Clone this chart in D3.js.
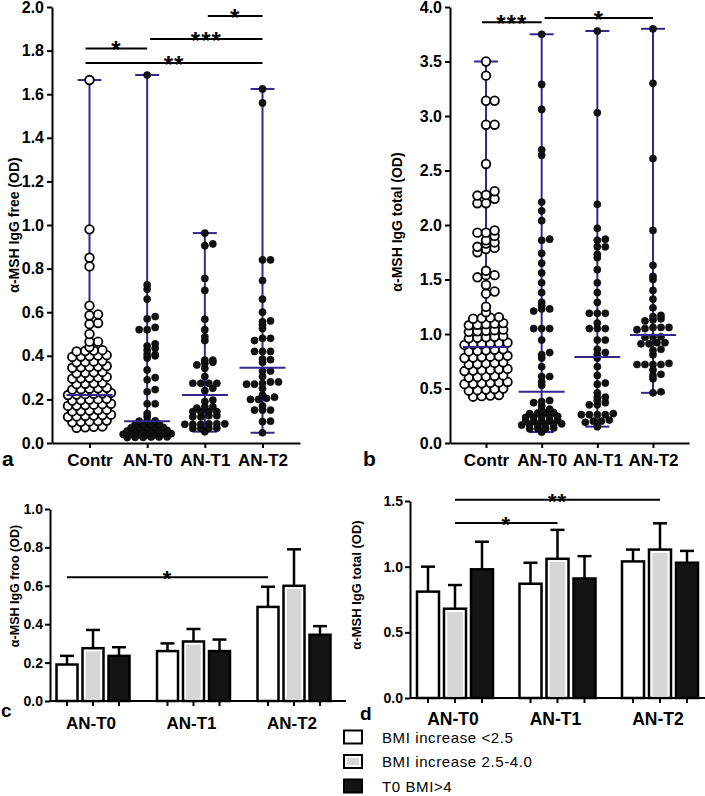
<!DOCTYPE html>
<html><head><meta charset="utf-8">
<script src="https://cdn.jsdelivr.net/npm/d3@7"></script>
<style>
body{margin:0;background:#fff}
svg{display:block}
text{font-family:"Liberation Sans",Arial,Helvetica,sans-serif}
</style>
</head><body>
<svg id="chart" width="705" height="796"></svg>
<script>
// ---------------- DATA ----------------
const scatterGroups = ["Contr", "AN-T0", "AN-T1", "AN-T2"];

// panel a : α-MSH IgG free (OD)
const freeContr = [1.665, 0.98, 0.85, 0.81, 0.63, 0.59, 0.585, 0.55, 0.545, 0.50, 0.465, 0.465, 0.44,
  0.420, 0.422, 0.424, 0.426,
  0.395, 0.397, 0.399, 0.401, 0.403,
  0.370, 0.372, 0.374, 0.376,
  0.345, 0.347, 0.349, 0.351, 0.353,
  0.320, 0.322, 0.324, 0.326,
  0.295, 0.297, 0.299, 0.301, 0.303,
  0.270, 0.272, 0.274, 0.276,
  0.245, 0.247, 0.249, 0.251, 0.253,
  0.220, 0.222, 0.224, 0.226, 0.228, 0.230,
  0.195, 0.197, 0.199, 0.201, 0.203,
  0.170, 0.172, 0.174, 0.176, 0.178, 0.180,
  0.145, 0.147, 0.149, 0.151, 0.153,
  0.120, 0.122, 0.124, 0.126, 0.128, 0.130,
  0.095, 0.097, 0.099, 0.101, 0.103,
  0.070, 0.072, 0.074, 0.076];
const freeT0 = [1.688, 0.725, 0.705, 0.66, 0.58, 0.57, 0.53, 0.52, 0.52, 0.455, 0.445, 0.435, 0.425, 0.405,
  0.405, 0.40, 0.39, 0.335, 0.30, 0.29, 0.245, 0.235, 0.18, 0.18, 0.135, 0.12,
  0.100, 0.101, 0.102,
  0.085, 0.086, 0.086, 0.087,
  0.070, 0.071, 0.071, 0.072, 0.072,
  0.055, 0.056, 0.056, 0.057, 0.057, 0.058,
  0.040, 0.041, 0.041, 0.042, 0.042, 0.043, 0.043,
  0.025, 0.026, 0.026, 0.027, 0.027, 0.028];
const freeT1 = [0.963, 0.913, 0.905, 0.755, 0.70, 0.568, 0.52, 0.487, 0.47, 0.38, 0.38, 0.37, 0.365, 0.358,
  0.343, 0.305, 0.274, 0.274, 0.274, 0.274, 0.251, 0.24, 0.197, 0.19, 0.166, 0.166, 0.16, 0.144, 0.144,
  0.144, 0.144, 0.125, 0.125, 0.12, 0.12, 0.088, 0.088, 0.088, 0.086, 0.086, 0.086, 0.068, 0.068, 0.067,
  0.067, 0.052];
const freeT2 = [1.624, 1.56, 0.84, 0.84, 0.745, 0.66, 0.60, 0.556, 0.56, 0.541, 0.525, 0.48, 0.48, 0.47,
  0.42, 0.42, 0.42, 0.382, 0.385, 0.37, 0.33, 0.33, 0.305, 0.28, 0.274, 0.28, 0.27, 0.27, 0.25, 0.21,
  0.20, 0.205, 0.20, 0.22, 0.151, 0.151, 0.151, 0.17, 0.10, 0.098, 0.047];
const freeMedians = [0.22, 0.10, 0.22, 0.345];
const freeTicks = [0, 0.2, 0.4, 0.6, 0.8, 1.0, 1.2, 1.4, 1.6, 1.8, 2.0];
const freeSig = [
  {from: "Contr", to: "AN-T0", level: 1.81, label: "*"},
  {from: "Contr", to: "AN-T2", level: 1.743, label: "**"},
  {from: "AN-T0", to: "AN-T2", level: 1.853, label: "***"},
  {from: "AN-T1", to: "AN-T2", level: 1.959, label: "*"}
];

// panel b : α-MSH IgG total (OD)
const totalContr = [3.50, 3.37, 3.14, 3.14, 2.92, 2.92, 2.56, 2.31, 2.275, 2.27, 2.24, 2.20, 2.20, 1.95,
  1.93, 1.93, 1.90, 1.86, 1.84, 1.83, 1.80, 1.79, 1.78, 1.75, 1.58, 1.54, 1.54, 1.52, 1.45, 1.39, 1.37,
  1.25, 1.20,
  1.140, 1.145, 1.150, 1.155,
  1.080, 1.085, 1.090, 1.095, 1.100,
  1.020, 1.025, 1.030, 1.035, 1.040,
  0.960, 0.965, 0.970, 0.975, 0.980,
  0.900, 0.904, 0.908, 0.912, 0.916, 0.920,
  0.840, 0.845, 0.850, 0.855, 0.860,
  0.780, 0.784, 0.788, 0.792, 0.796, 0.800,
  0.720, 0.725, 0.730, 0.735, 0.740,
  0.660, 0.664, 0.668, 0.672, 0.676, 0.680,
  0.600, 0.605, 0.610, 0.615, 0.620,
  0.540, 0.544, 0.548, 0.552, 0.556, 0.560,
  0.480, 0.485, 0.490, 0.495, 0.500,
  0.425, 0.430, 0.435, 0.440];
const totalT0 = [3.75, 3.29, 3.06, 2.69, 2.64, 2.21, 2.13, 2.04, 1.87, 1.86, 1.74, 1.65, 1.56, 1.47, 1.38,
  1.29, 1.26, 1.23, 1.23, 1.21, 1.05, 1.05, 1.05, 0.945, 0.83, 0.81, 0.78, 0.70, 0.61, 0.61, 0.56, 0.53,
  0.39, 0.38, 0.37, 0.34,
  0.305, 0.31,
  0.270, 0.275, 0.280, 0.280,
  0.235, 0.238, 0.240, 0.242, 0.245,
  0.200, 0.203, 0.205, 0.207, 0.210,
  0.165, 0.168, 0.170, 0.172, 0.174, 0.176,
  0.130, 0.133, 0.135, 0.138,
  0.10];
const totalT1 = [3.78, 3.03, 2.19, 1.97, 1.87, 1.86, 1.80, 1.80, 1.73, 1.70, 1.59, 1.47, 1.38, 1.29, 1.19,
  1.19, 1.19, 1.10, 1.05, 1.05, 1.05, 0.945, 0.945, 0.86, 0.83, 0.81, 0.78, 0.70, 0.62, 0.55, 0.54, 0.46,
  0.42, 0.42, 0.39, 0.37, 0.35, 0.35, 0.27, 0.26, 0.26, 0.26, 0.26, 0.21, 0.20, 0.20, 0.19, 0.15];
const totalT2 = [3.80, 3.30, 2.61, 1.95, 1.63, 1.53, 1.50, 1.40, 1.32, 1.24, 1.17, 1.16, 1.14, 1.13, 1.12,
  1.06, 1.06, 1.06, 1.05, 1.04, 0.975, 0.97, 0.97, 0.92, 0.92, 0.91, 0.91, 0.86, 0.85, 0.81, 0.73, 0.72,
  0.72, 0.72, 0.72, 0.67, 0.63, 0.62, 0.59, 0.47, 0.46];
const totalMedians = [0.88, 0.47, 0.79, 0.99];
const totalTicks = [0, 0.5, 1.0, 1.5, 2.0, 2.5, 3.0, 3.5, 4.0];
const totalSig = [
  {from: "Contr", to: "AN-T0", level: 3.86, label: "***"},
  {from: "AN-T0", to: "AN-T2", level: 3.90, label: "*"}
];

// panels c & d : means with SEM by BMI group
const barGroups = ["AN-T0", "AN-T1", "AN-T2"];
const bmiSeries = ["BMI increase <2.5", "BMI increase 2.5-4.0", "T0 BMI>4"];
const freeBarMean = [[0.19, 0.275, 0.235], [0.26, 0.31, 0.26], [0.49, 0.60, 0.345]];
const freeBarSem  = [[0.045, 0.095, 0.045], [0.04, 0.065, 0.06], [0.105, 0.19, 0.045]];
const freeBarTicks = [0, 0.2, 0.4, 0.6, 0.8, 1.0];
const freeBarSig = [{from: [0, 0], to: [2, 0], level: 0.645, label: "*"}];

const totalBarMean = [[0.81, 0.68, 0.98], [0.87, 1.06, 0.91], [1.04, 1.13, 1.03]];
const totalBarSem  = [[0.19, 0.18, 0.21], [0.16, 0.22, 0.17], [0.09, 0.20, 0.09]];
const totalBarTicks = [0, 0.5, 1.0, 1.5];
const totalBarSig = [
  {from: [0, 1], to: [2, 1], level: 1.51, label: "**"},
  {from: [0, 1], to: [1, 1], level: 1.333, label: "*"}
];

// ---------------- DRAWING ----------------
const svg = d3.select("#chart");
const PURPLE = "#33298a";
const seriesFill = ["#ffffff", "#d6d6d6", "#141414"];

function styleAxis(g, fontSize) {
  g.selectAll("path, line").attr("stroke", "#000").attr("stroke-width", 2);
  g.selectAll("text").attr("font-size", fontSize).attr("font-weight", "bold").attr("fill", "#000")
    .attr("font-family", '"Liberation Sans", Arial, sans-serif');
}

// Prism-like column scatter: values close in y share a row and spread sideways
function swarm(values, y, binPx, step) {
  const pts = values.map(v => ({v, y: y(v)})).sort((a, b) => b.y - a.y);
  let cur = null;
  const rows = [];
  pts.forEach(p => {
    if (!cur || Math.abs(p.y - cur.y0) > binPx) { cur = {y0: p.y, items: []}; rows.push(cur); }
    cur.items.push(p);
  });
  rows.forEach(r => {
    const n = r.items.length;
    r.items.forEach((p, i) => p.dx = (n === 2 ? i : i - (n - 1) / 2) * step);
  });
  return pts;
}

function scatterPanel(cfg) {
  const x = d3.scalePoint().domain(scatterGroups).range(cfg.xRange).padding(cfg.pad);
  const y = d3.scaleLinear().domain(cfg.yDomain).range([443, 7]);
  const g = svg.append("g");

  const ya = g.append("g").attr("transform", `translate(${cfg.xRange[0]},0)`)
    .call(d3.axisLeft(y).tickValues(cfg.ticks).tickFormat(d3.format(".1f")).tickSize(5).tickPadding(3).tickSizeOuter(0));
  styleAxis(ya, 16);
  const xa = g.append("g").attr("transform", "translate(0,443)")
    .call(d3.axisBottom(x).tickSize(5).tickPadding(6).tickSizeOuter(0));
  styleAxis(xa, 17);

  g.append("text").attr("transform", `translate(${cfg.titleX},${cfg.titleY}) rotate(-90)`)
    .attr("text-anchor", "middle").attr("font-size", 14).attr("font-weight", "bold").text(cfg.title);
  g.append("text").attr("x", cfg.letterX).attr("y", 466).attr("font-size", 21).attr("font-weight", "bold").text(cfg.letter);

  cfg.series.forEach((vals, i) => {
    const cx = x(scatterGroups[i]);
    const [lo, hi] = d3.extent(vals);
    const open = i === 0;
    g.append("line").attr("x1", cx).attr("x2", cx).attr("y1", y(lo)).attr("y2", y(hi))
      .attr("stroke", PURPLE).attr("stroke-width", 2);
    [lo, hi].forEach(v => g.append("line").attr("x1", cx - 12).attr("x2", cx + 12)
      .attr("y1", y(v)).attr("y2", y(v)).attr("stroke", PURPLE).attr("stroke-width", 2));
    const pts = swarm(vals, y, open ? cfg.openBin : 3, open ? 8.6 : 8);
    g.append("g").selectAll("circle").data(pts).join("circle")
      .attr("cx", d => cx + d.dx).attr("cy", d => d.y)
      .attr("r", open ? 4.3 : 3.6)
      .attr("fill", open ? "#fff" : "#111")
      .attr("stroke", "#000").attr("stroke-width", open ? 1.8 : 0.5);
    g.append("line").attr("x1", cx - 23).attr("x2", cx + 23)
      .attr("y1", y(cfg.medians[i])).attr("y2", y(cfg.medians[i]))
      .attr("stroke", PURPLE).attr("stroke-width", 2);
  });

  cfg.sig.forEach(s => {
    const yy = y(s.level);
    const x1 = x(s.from) - (s.from === "Contr" ? 4 : -3), x2 = x(s.to);
    g.append("line").attr("x1", x1).attr("x2", x2).attr("y1", yy).attr("y2", yy)
      .attr("stroke", "#000").attr("stroke-width", 2);
    g.append("text").attr("x", (x1 + x2) / 2).attr("y", yy + 10).attr("text-anchor", "middle")
      .attr("font-size", 24).attr("font-weight", "bold").attr("letter-spacing", 1).text(s.label);
  });
}

scatterPanel({
  xRange: [52, 300], pad: 0.65, yDomain: [0, 2], ticks: freeTicks, openBin: 4.2,
  series: [freeContr, freeT0, freeT1, freeT2], medians: freeMedians, sig: freeSig,
  title: "α-MSH IgG free (OD)", titleX: 19, titleY: 225, letter: "a", letterX: 2
});
scatterPanel({
  xRange: [450, 689], pad: 0.647, yDomain: [0, 4], ticks: totalTicks, openBin: 4.5,
  series: [totalContr, totalT0, totalT1, totalT2], medians: totalMedians, sig: totalSig,
  title: "α-MSH IgG total (OD)", titleX: 402, titleY: 222, letter: "b", letterX: 363
});

function barPanel(cfg) {
  const g = svg.append("g");
  const xg = d3.scalePoint().domain(barGroups).range(cfg.groupRange);
  const xs = d3.scaleBand().domain(bmiSeries).range([-1.5 * cfg.step, 1.5 * cfg.step]);
  const y = d3.scaleLinear().domain(cfg.yDomain).range([cfg.y0, cfg.y1]);
  const bw = cfg.barW;
  const cxOf = (gi, si) => xg(barGroups[gi]) + xs(bmiSeries[si]) + xs.bandwidth() / 2;

  const ya = g.append("g").attr("transform", `translate(${cfg.axisX},0)`)
    .call(d3.axisLeft(y).tickValues(cfg.ticks).tickFormat(d3.format(".1f")).tickSize(5).tickPadding(2).tickSizeOuter(0));
  styleAxis(ya, 14);

  const data = [];
  cfg.mean.forEach((row, gi) => row.forEach((m, si) => data.push({gi, si, m, e: cfg.sem[gi][si]})));

  data.forEach(d => {
    const cx = cxOf(d.gi, d.si);
    g.append("line").attr("x1", cx).attr("x2", cx).attr("y1", y(d.m)).attr("y2", y(d.m + d.e))
      .attr("stroke", "#000").attr("stroke-width", 2.5);
    g.append("line").attr("x1", cx - 7).attr("x2", cx + 7).attr("y1", y(d.m + d.e)).attr("y2", y(d.m + d.e))
      .attr("stroke", "#000").attr("stroke-width", 2.5);
  });
  g.append("g").selectAll("rect").data(data).join("rect")
    .attr("x", d => cxOf(d.gi, d.si) - bw / 2).attr("width", bw)
    .attr("y", d => y(d.m)).attr("height", d => y(0) - y(d.m))
    .attr("fill", d => d.si === 1 ? "#fff" : seriesFill[d.si])
    .attr("stroke", "#000").attr("stroke-width", 2.5);
  g.append("g").selectAll("rect").data(data.filter(d => d.si === 1)).join("rect")
    .attr("x", d => cxOf(d.gi, d.si) - bw / 2 + 3.2).attr("width", bw - 6.4)
    .attr("y", d => y(d.m) + 3.2).attr("height", d => y(0) - y(d.m) - 3.2)
    .attr("fill", seriesFill[1]);

  g.append("line").attr("x1", cfg.axisX).attr("x2", cfg.axisEnd).attr("y1", y(0)).attr("y2", y(0))
    .attr("stroke", "#000").attr("stroke-width", 2);
  g.append("g").selectAll("line").data(data).join("line")
    .attr("x1", d => cxOf(d.gi, d.si)).attr("x2", d => cxOf(d.gi, d.si))
    .attr("y1", y(0)).attr("y2", y(0) + 5).attr("stroke", "#000").attr("stroke-width", 2);
  g.append("g").selectAll("text").data(barGroups).join("text")
    .attr("x", d => xg(d) - 2).attr("y", cfg.labelY).attr("text-anchor", "middle")
    .attr("font-size", cfg.labelSize).attr("font-weight", "bold").text(d => d);

  g.append("text").attr("transform", `translate(${cfg.titleX},${cfg.titleY}) rotate(-90)`)
    .attr("text-anchor", "middle").attr("font-size", cfg.titleSize).attr("font-weight", "bold").text(cfg.title);
  g.append("text").attr("x", cfg.letterX).attr("y", cfg.letterY).attr("font-size", 19)
    .attr("font-weight", "bold").text(cfg.letter);

  cfg.sig.forEach(s => {
    const x1 = cxOf(s.from[0], s.from[1]), x2 = cxOf(s.to[0], s.to[1]);
    const yy = y(s.level);
    g.append("line").attr("x1", x1).attr("x2", x2).attr("y1", yy).attr("y2", yy)
      .attr("stroke", "#000").attr("stroke-width", 2);
    g.append("text").attr("x", (x1 + x2) / 2).attr("y", yy + 9).attr("text-anchor", "middle")
      .attr("font-size", 22).attr("font-weight", "bold").attr("letter-spacing", 1).text(s.label);
  });
}

barPanel({
  groupRange: [93, 294], step: 26, barW: 21, yDomain: [0, 1], y0: 701, y1: 509,
  axisX: 50, axisEnd: 346, ticks: freeBarTicks, mean: freeBarMean, sem: freeBarSem, sig: freeBarSig,
  labelY: 729, labelSize: 17, title: "α-MSH IgG froo (OD)", titleX: 19, titleY: 586, titleSize: 12.5,
  letter: "c", letterX: 1, letterY: 717
});
barPanel({
  groupRange: [455, 660], step: 27, barW: 22, yDomain: [0, 1.5], y0: 698, y1: 501,
  axisX: 410, axisEnd: 705, ticks: totalBarTicks, mean: totalBarMean, sem: totalBarSem, sig: totalBarSig,
  labelY: 725, labelSize: 17.5, title: "α-MSH IgG total (OD)", titleX: 361, titleY: 585, titleSize: 13,
  letter: "d", letterX: 360, letterY: 720
});

// legend
const lg = svg.append("g").attr("transform", "translate(344,737)");
bmiSeries.forEach((s, i) => {
  const row = lg.append("g").attr("transform", `translate(0,${i * 24.5})`);
  row.append("rect").attr("x", 0).attr("y", -6.5).attr("width", 18).attr("height", 13)
    .attr("fill", i === 1 ? "#fff" : seriesFill[i]).attr("stroke", "#000").attr("stroke-width", 2);
  if (i === 1) row.append("rect").attr("x", 3).attr("y", -3.5).attr("width", 12).attr("height", 7).attr("fill", seriesFill[1]);
  row.append("text").attr("x", 38).attr("y", 5.5).attr("font-size", 15).attr("letter-spacing", 0.6).text(s);
});
</script>
</body></html>
